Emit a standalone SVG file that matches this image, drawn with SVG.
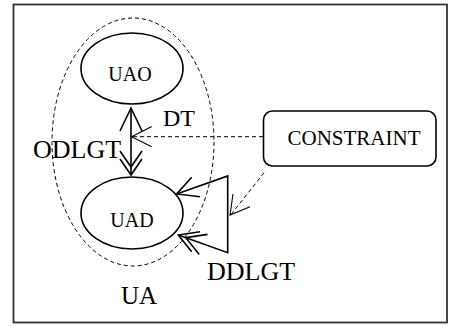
<svg xmlns="http://www.w3.org/2000/svg" width="453" height="326" viewBox="0 0 453 326">
<style>
.t{font-family:"Liberation Serif","Times New Roman",serif;fill:#000}
.solid{fill:none;stroke:#000;stroke-width:1.6}
.dash{fill:none;stroke:#000;stroke-width:1;stroke-dasharray:4,3}
.thin{fill:none;stroke:#000;stroke-width:1.1}
</style>
<rect x="0" y="0" width="453" height="326" fill="#fff"/>
<rect x="13.5" y="4.5" width="433.5" height="318" fill="none" stroke="#333" stroke-width="1.8"/>
<g id="UA">
<ellipse cx="133" cy="142" rx="81" ry="124" class="dash"/>
<text class="t" x="139" y="304" font-size="25" text-anchor="middle">UA</text>
</g>
<g id="UAO">
<ellipse cx="132" cy="68.5" rx="51" ry="35.5" class="solid"/>
<text class="t" x="130" y="81" font-size="20" text-anchor="middle">UAO</text>
</g>
<g id="UAD">
<ellipse cx="132" cy="213" rx="51" ry="36" class="solid"/>
<text class="t" x="132" y="227" font-size="20" text-anchor="middle">UAD</text>
</g>
<g id="CONSTRAINT">
<rect x="263.5" y="111" width="172.5" height="55" rx="9" class="solid"/>
<text class="t" x="354" y="145" font-size="21" text-anchor="middle">CONSTRAINT</text>
</g>
<g id="connectors">
<!-- ODLGT -->
<line x1="131" y1="108" x2="131" y2="175" class="solid" stroke-width="2.2"/>
<polyline points="120,131 131,108 142,131" class="solid"/>
<polyline points="120,159 131,175 142,159" class="solid"/>
<polyline points="120,151 131,167 142,151" class="solid"/>
<text class="t" x="33" y="158" font-size="26">ODLGT</text>
<!-- DT -->
<line x1="263" y1="136.7" x2="132" y2="136.7" class="dash"/>
<polyline points="151.7,126.5 131.5,136.7 151.7,146.7" class="thin"/>
<text class="t" x="163" y="126" font-size="24">DT</text>
<!-- constraint to DDLGT -->
<line x1="264" y1="172.7" x2="230.7" y2="215" class="dash"/>
<polyline points="233,194 230,215 250,206.7" class="thin"/>
<!-- DDLGT -->
<polyline points="176.7,194 227.7,176 227.7,252.7 178.3,235" class="solid"/>
<polyline points="191.7,177.3 176.7,194 200,196.7" class="solid"/>
<polyline points="200,231.7 178.3,235 191.7,251.7" class="solid"/>
<polyline points="207.5,234.4 185.8,237.7 199.2,254.4" class="solid"/>
<text class="t" x="207" y="280" font-size="26">DDLGT</text>
</g>
</svg>
